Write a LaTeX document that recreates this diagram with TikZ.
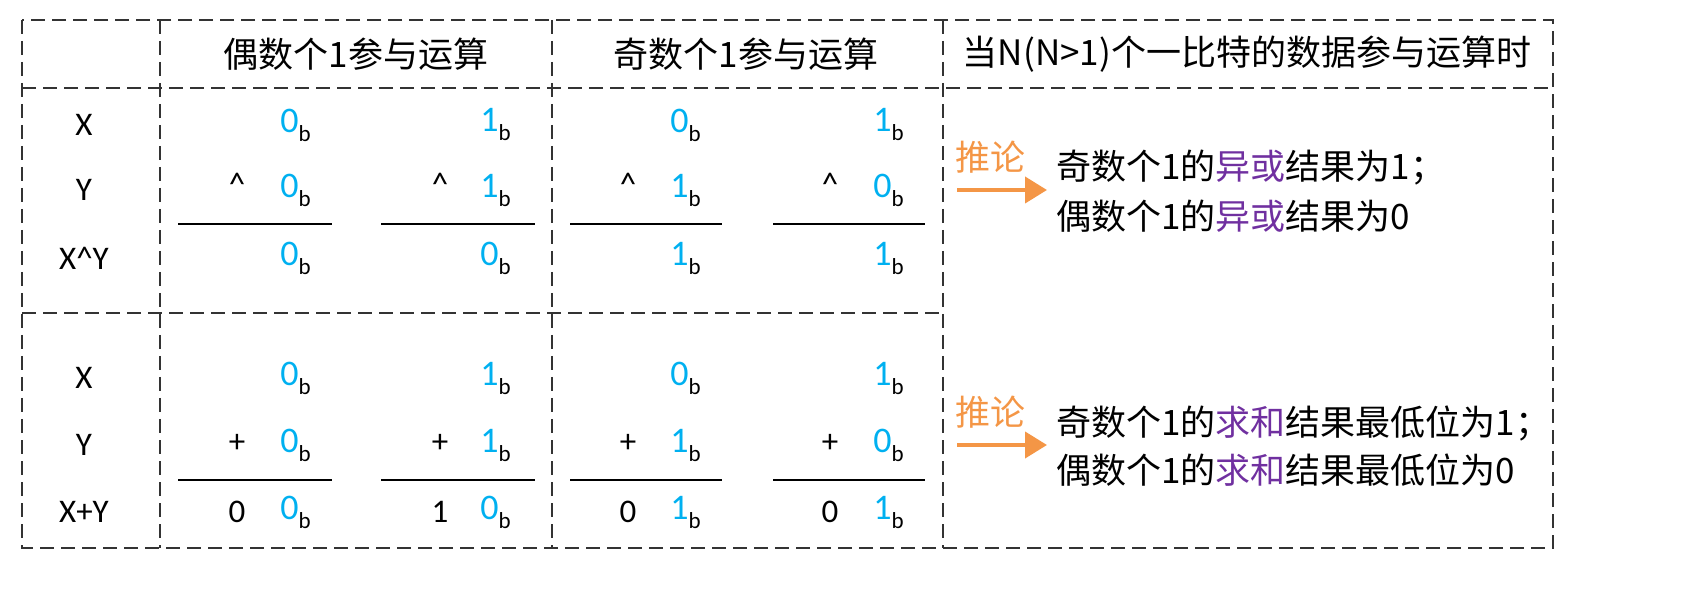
\documentclass[tikz,border=0pt]{standalone}
\usepackage{fontspec}
\usetikzlibrary{arrows.meta}
\setmainfont{Carlito}
\newfontfamily\cjk{Noto Sans CJK SC}
\definecolor{cb}{RGB}{0,176,240}
\definecolor{cp}{RGB}{112,48,160}
\definecolor{co}{RGB}{244,150,70}
\newcommand\bv[1]{{\color{cb}#1}\raisebox{-0.25em}{\fontsize{11.5}{12}\selectfont b}}
\begin{document}
\begin{tikzpicture}[x=0.5pt,y=-0.5pt,
  dl/.style={dashed,dash pattern=on 7pt off 3.5pt,line width=1pt,draw=black!80},
  t/.style={font=\fontsize{18}{20}\selectfont,inner sep=0pt},
  lb/.style={font=\fontsize{16.5}{20}\selectfont,inner sep=0pt},
  hd/.style={font=\cjk\fontsize{17.5}{20}\selectfont,inner sep=0pt},
  rl/.style={line width=0.8pt},
  ar/.style={line width=2pt,draw=co,-{Triangle[length=11pt,width=13pt]}}]
\useasboundingbox (0,0) rectangle (1689,603);
\draw[dl] (22,20) rectangle (1553,548);
\draw[dl] (22,88) -- (1553,88);
\draw[dl] (22,313) -- (943,313);
\draw[dl] (160,20) -- (160,548);
\draw[dl] (552,20) -- (552,548);
\draw[dl] (943,20) -- (943,548);
\node[hd] (h1) at (356,54) {偶数个1参与运算};
\node[hd] (h2) at (746,54) {奇数个1参与运算};
\node[hd] (h3) at (1247,54) {当N(N>1)个一比特的数据参与运算时};
\foreach \n/\y/\s in {a/125/X,b/190/Y,c/258/X\^{}Y,d/378/X,e/445/Y,f/512/X+Y}
  \node[lb] (L\n) at (84,\y) {\s};
\foreach \x/\a/\b/\c/\d/\e/\f [count=\i] in {290/0/0/0/0/0/0,490/1/1/0/1/1/0,680/0/1/1/0/1/1,883/1/0/1/1/0/1}{
  \node[t,anchor=west] (d\i a) at (\x-10,125) {\bv{\a}};
  \node[t,anchor=west] (d\i b) at (\x-10,190) {\bv{\b}};
  \node[t,anchor=west] (d\i c) at (\x-10,258) {\bv{\c}};
  \node[t,anchor=west] (d\i d) at (\x-10,378) {\bv{\d}};
  \node[t,anchor=west] (d\i e) at (\x-10,445) {\bv{\e}};
  \node[t,anchor=west] (d\i f) at (\x-10,512) {\bv{\f}};
}
\foreach \x/\r/\i in {237/0/1,440/1/2,628/0/3,830/0/4}{
  \node[lb] (op\i) at (\x,184) {\^{}};
  \node[lb] (pl\i) at (\x,443) {+};
  \node[lb] (r\i) at (\x,512) {\r};
}
\foreach \a/\b in {178/332,381/535,570/722,773/925}{
  \draw[rl] (\a,224) -- (\b,224);
  \draw[rl] (\a,480) -- (\b,480);
}
\node[hd,text=co] (inf1) at (990,157) {推论};
\coordinate (a1s) at (957,190); \coordinate (a1e) at (1047,190);
\draw[ar] (a1s) -- (a1e);
\node[hd,anchor=west] (c1) at (1056,168) {奇数个1的{\color{cp}异或}结果为1；};
\node[hd,anchor=west] (c2) at (1056,216) {偶数个1的{\color{cp}异或}结果为0};
\node[hd,text=co] (inf2) at (990,412) {推论};
\coordinate (a2s) at (957,445); \coordinate (a2e) at (1047,445);
\draw[ar] (a2s) -- (a2e);
\node[hd,anchor=west] (c3) at (1056,423) {奇数个1的{\color{cp}求和}结果最低位为1；};
\node[hd,anchor=west] (c4) at (1056,470) {偶数个1的{\color{cp}求和}结果最低位为0};
\end{tikzpicture}
\end{document}
